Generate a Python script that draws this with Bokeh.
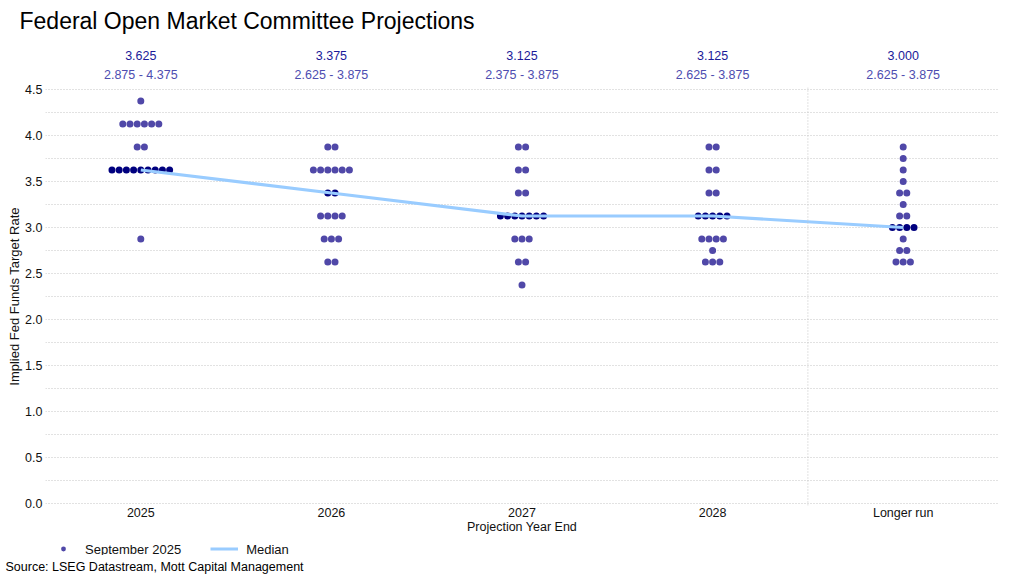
from bokeh.plotting import figure
from bokeh.layouts import column
from bokeh.models import (ColumnDataSource, FixedTicker, Range1d, LabelSet, Legend,
                          LegendItem, Span, Title)
from bokeh.core.properties import value
from bokeh.embed import file_html
from bokeh.resources import INLINE

# ---------------- data ----------------
categories = ["2025", "2026", "2027", "2028", "Longer run"]

rates_2025 = [4.375, 4.125, 3.875, 3.625, 2.875]
counts_2025 = [1, 6, 2, 9, 1]
rates_2026 = [3.875, 3.625, 3.375, 3.125, 2.875, 2.625]
counts_2026 = [2, 6, 2, 4, 3, 2]
rates_2027 = [3.875, 3.625, 3.375, 3.125, 2.875, 2.625, 2.375]
counts_2027 = [2, 2, 2, 7, 3, 2, 1]
rates_2028 = [3.875, 3.625, 3.375, 3.125, 2.875, 2.75, 2.625]
counts_2028 = [2, 2, 2, 5, 4, 1, 3]
rates_longer = [3.875, 3.75, 3.625, 3.5, 3.375, 3.25, 3.125, 3.0, 2.875, 2.75, 2.625]
counts_longer = [1, 1, 1, 1, 2, 1, 2, 4, 1, 2, 3]

medians = [3.625, 3.375, 3.125, 3.125, 3.000]
median_labels = ["3.625", "3.375", "3.125", "3.125", "3.000"]
range_labels = ["2.875 - 4.375", "2.625 - 3.875", "2.375 - 3.875",
                "2.625 - 3.875", "2.625 - 3.875"]

y_ticks = [0.0, 0.5, 1.0, 1.5, 2.0, 2.5, 3.0, 3.5, 4.0, 4.5]
y_minor = [0.25, 0.75, 1.25, 1.75, 2.25, 2.75, 3.25, 3.75, 4.25]

# ---------------- styling / layout ----------------
FONT = "Liberation Sans"
DOT = "#5048A8"
DOT_MED = "#00007F"
LINE = "#99CCFF"
GRID = "#c4c4c4"
TXT = "#111111"
DOT_STEP = 0.0378
W = 1010
BL, BR = 45, 12                 # left / right borders of the aligned frames
H0, H1, H2 = 82, 460, 34        # header strip, main plot, footer strip

rates_all = [rates_2025, rates_2026, rates_2027, rates_2028, rates_longer]
counts_all = [counts_2025, counts_2026, counts_2027, counts_2028, counts_longer]
cat_pos = list(range(len(categories)))

reg_x, reg_y, med_x, med_y = [], [], [], []
for i, (rates, counts) in enumerate(zip(rates_all, counts_all)):
    for r, n in zip(rates, counts):
        for k in range(n):
            xx = i + (k - (n - 1) / 2) * DOT_STEP
            if r == medians[i]:
                med_x.append(xx); med_y.append(r)
            else:
                reg_x.append(xx); reg_y.append(r)


def bare(fig):
    fig.outline_line_color = None
    fig.background_fill_color = "white"
    fig.border_fill_color = "white"
    fig.grid.visible = False
    return fig


x_range = Range1d(-0.5, 4.5)

# ---------------- header strip: title + median / range labels ----------------
p0 = bare(figure(width=W, height=H0, x_range=x_range, y_range=Range1d(0, 46),
                 x_axis_location=None, y_axis_location=None,
                 output_backend="svg", toolbar_location=None,
                 min_border_left=BL, min_border_right=BR,
                 min_border_top=36, min_border_bottom=0))
p0.title.text = "Federal Open Market Committee Projections"
p0.title.text_font = FONT
p0.title.text_font_size = "23px"
p0.title.text_font_style = "normal"
p0.title.text_color = "black"
p0.title.align = "left"
p0.title.offset = -26
p0.title.standoff = 6

ann = ColumnDataSource(dict(x=cat_pos, ym=[27] * 5, yr=[7.5] * 5,
                            med=median_labels, rng=range_labels))
p0.add_layout(LabelSet(x="x", y="ym", text="med", source=ann, text_align="center",
                       text_baseline="middle", text_font=value(FONT),
                       text_font_size=value("12.5px"), text_color="#1a1a99"))
p0.add_layout(LabelSet(x="x", y="yr", text="rng", source=ann, text_align="center",
                       text_baseline="middle", text_font=value(FONT),
                       text_font_size=value("12.5px"), text_color="#4d4db0"))

# ---------------- main plot ----------------
p = figure(width=W, height=H1, x_range=x_range, y_range=Range1d(-0.0217, 4.5217),
           output_backend="svg", toolbar_location=None,
           min_border_left=BL, min_border_right=BR,
           min_border_top=5, min_border_bottom=37)
p.outline_line_color = None
p.background_fill_color = "white"
p.border_fill_color = "white"

p.xaxis.ticker = FixedTicker(ticks=cat_pos)
p.xaxis.major_label_overrides = {i: c for i, c in enumerate(categories)}
p.yaxis.ticker = FixedTicker(ticks=y_ticks, minor_ticks=y_minor)
p.yaxis.major_label_overrides = {t: f"{t:.1f}" for t in y_ticks}
for ax in (p.xaxis, p.yaxis):
    ax.axis_line_color = None
    ax.major_tick_line_color = None
    ax.minor_tick_line_color = None
    ax.major_tick_out = 0
    ax.major_tick_in = 0
    ax.minor_tick_out = 0
    ax.minor_tick_in = 0
    ax.major_label_text_font = FONT
    ax.major_label_text_font_size = "12.5px"
    ax.major_label_text_color = TXT
    ax.axis_label_text_font = FONT
    ax.axis_label_text_font_size = "12.5px"
    ax.axis_label_text_font_style = "normal"
    ax.axis_label_text_color = TXT
p.xaxis.axis_label = "Projection Year End"
p.yaxis.axis_label = "Implied Fed Funds Target Rate"
p.yaxis.axis_label_text_font_size = "13px"
p.xaxis.major_label_standoff = 0
p.xaxis.axis_label_standoff = -3
p.yaxis.major_label_standoff = 3
p.yaxis.axis_label_standoff = 0

p.xgrid.grid_line_color = None
p.ygrid.grid_line_color = GRID
p.ygrid.grid_line_dash = "1 2"
p.ygrid.minor_grid_line_color = GRID
p.ygrid.minor_grid_line_dash = "1 2"

p.add_layout(Span(location=3.5, dimension="height", line_color=GRID,
                  line_dash="1 2", line_width=1))

p.scatter(reg_x, reg_y, size=7, fill_color=DOT, line_color=None)
p.scatter(med_x, med_y, size=7, fill_color=DOT_MED, line_color=None)
p.line(cat_pos, medians, line_color=LINE, line_width=3.2)

# ---------------- footer strip: legend + source ----------------
p2 = bare(figure(width=W, height=H2, x_range=Range1d(0, 1), y_range=Range1d(0, 1),
                 x_axis_location=None, y_axis_location=None,
                 output_backend="svg", toolbar_location=None,
                 min_border_left=BL, min_border_right=BR,
                 min_border_top=0, min_border_bottom=0))
# legend swatches only (no visible data)
lr_dot = p2.scatter([float("nan")], [float("nan")], size=7, fill_color=DOT, line_color=None)
lr_line = p2.line([float("nan"), float("nan")], [float("nan"), float("nan")],
                  line_color=LINE, line_width=3.2)
legend = Legend(items=[LegendItem(label="September 2025", renderers=[lr_dot]),
                       LegendItem(label="Median", renderers=[lr_line])],
                orientation="horizontal", location="left",
                glyph_width=28, glyph_height=12, label_standoff=8, spacing=29,
                padding=2, margin=4, border_line_color=None,
                background_fill_alpha=0,
                label_text_font=FONT, label_text_font_size="13px",
                label_text_color=TXT, label_height=12)
p2.add_layout(legend)
p2.add_layout(Title(text="Source: LSEG Datastream, Mott Capital Management",
                    align="left", offset=-40, text_font=FONT, text_font_size="12.5px",
                    text_font_style="normal", text_color="black", standoff=5), "below")

layout = column(p0, p, p2, spacing=0)
open("out.html", "w").write(file_html(layout, INLINE))
